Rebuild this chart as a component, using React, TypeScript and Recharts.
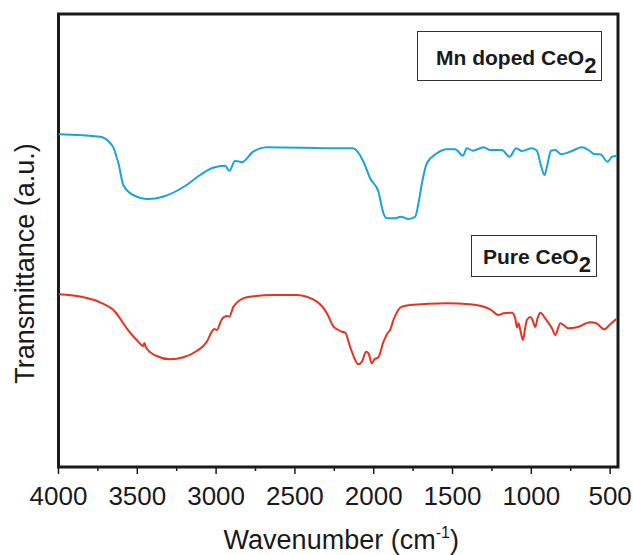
import { Line, LineChart, ReferenceArea, XAxis, YAxis } from "recharts";

// wavenumber (cm-1) and transmittance (a.u.)
const mnWave = [4000, 3737, 3662, 3645, 3630, 3620, 3589, 3527, 3432, 3337, 3197, 3102, 3019, 2943, 2916, 2880, 2848, 2837, 2765, 2678, 2213, 2132, 2065, 2023, 1970, 1938, 1917, 1864, 1828, 1779, 1737, 1716, 1694, 1663, 1599, 1536, 1483, 1434, 1409, 1371, 1303, 1261, 1187, 1138, 1096, 1060, 996, 965, 937, 916, 901, 875, 848, 812, 753, 679, 637, 601, 563, 516, 488, 456];
const mnTrans = [332.7, 330.3, 322, 317, 309, 304, 282, 272, 268, 270.3, 281, 292, 299.3, 301.3, 296.3, 306, 305.3, 304.7, 315.3, 319.7, 318.7, 318.7, 305.3, 288.7, 275.3, 253.7, 248.7, 248.7, 250.3, 248, 250.3, 263.7, 283.7, 303.7, 313.7, 317.7, 317.7, 311.3, 318.7, 316.3, 319.7, 317, 317, 310.3, 318.7, 316, 318.7, 316.3, 300.3, 292, 300.3, 316.3, 317, 312.7, 315.3, 319.7, 317, 313, 312.7, 305.3, 310.3, 311.3];

const pureWave = [4000, 3842, 3737, 3641, 3567, 3504, 3462, 3455, 3445, 3377, 3292, 3208, 3123, 3059, 3027, 3011, 2996, 2964, 2932, 2916, 2890, 2805, 2636, 2488, 2361, 2297, 2255, 2224, 2202, 2181, 2150, 2097, 2075, 2048, 2033, 2012, 1995, 1970, 1938, 1910, 1896, 1875, 1821, 1769, 1536, 1388, 1261, 1208, 1176, 1123, 1102, 1091, 1081, 1070, 1053, 1039, 1028, 1007, 990, 975, 960, 943, 912, 869, 848, 816, 764, 710, 626, 588, 537, 504, 461];
const pureTrans = [172.7, 169.7, 164.7, 155.3, 138.7, 127, 121, 124, 119.5, 111, 107.7, 109.7, 116, 125.3, 135.3, 138, 137, 147.7, 151, 150.3, 160.3, 169.7, 172, 172, 165.3, 153.7, 140.3, 137, 135.3, 134.3, 120.3, 102.7, 105.3, 115.3, 113.7, 103.7, 107.7, 109.7, 125.3, 134.3, 137, 147, 160.3, 162, 163.7, 162.7, 157.7, 152, 153.7, 154.3, 148.7, 139.5, 143.7, 137, 127, 139, 147, 150, 146, 140, 149, 154.3, 148.7, 138.7, 132, 143.7, 138.7, 139.7, 144.7, 143.7, 137.7, 142, 148];

const majorTicks = [4000, 3500, 3000, 2500, 2000, 1500, 1000, 500];
const minorTicks = [3750, 3250, 2750, 2250, 1750, 1250, 750];

const mnData = mnWave.map((w, i) => ({ w, t: mnTrans[i] }));
const pureData = pureWave.map((w, i) => ({ w, t: pureTrans[i] }));

const FONT = "'Liberation Sans', Arial, sans-serif";
const FRAME = "#1a1a1a";

function WaveTick({ x, y, payload }: any) {
  const major = majorTicks.includes(payload.value);
  return (
    <g>
      <line x1={x} x2={x} y1={y} y2={y + (major ? 7 : 4)} stroke={FRAME} strokeWidth={1.5} />
      {major && (
        <text x={x} y={y + 38} textAnchor="middle" fontSize={26} fontFamily={FONT} fill="#1a1a1a">
          {payload.value}
        </text>
      )}
    </g>
  );
}

function XTitle({ viewBox }: any) {
  const cx = viewBox.x + viewBox.width / 2 + 3;
  return (
    <text x={cx} y={viewBox.y + 82} textAnchor="middle" fontSize={27} fontFamily={FONT} fill="#1a1a1a">
      Wavenumber (cm
      <tspan fontSize={16} dy={-11}>-1</tspan>
      <tspan dy={11}>)</tspan>
    </text>
  );
}

function YTitle({ viewBox }: any) {
  const cx = 25;
  const cy = viewBox.y + viewBox.height / 2 + 23;
  return (
    <text
      x={cx}
      y={cy}
      transform={`rotate(-90 ${cx} ${cy})`}
      textAnchor="middle"
      dominantBaseline="central"
      fontSize={27}
      fontFamily={FONT}
      fill="#1a1a1a"
    >
      Transmittance (a.u.)
    </text>
  );
}

const boxStyle: React.CSSProperties = {
  position: "absolute",
  border: "1.5px solid #333",
  background: "#fff",
  fontFamily: FONT,
  fontWeight: "bold",
  fontSize: 21,
  color: "#1a1a1a",
  boxSizing: "border-box",
  whiteSpace: "nowrap",
};

export default function App() {
  return (
    <div style={{ position: "absolute", left: 0, top: 0, width: 633, height: 555, background: "#fff" }}>
      <LineChart width={633} height={555} margin={{ top: 14, right: 15, bottom: 0, left: 0 }}>
        <XAxis
          dataKey="w"
          type="number"
          domain={[450, 4000]}
          reversed
          ticks={[...majorTicks, ...minorTicks]}
          interval={0}
          height={88}
          tickSize={0}
          tickMargin={0}
          tickLine={false}
          axisLine={false}
          tick={<WaveTick />}
          label={<XTitle />}
          allowDataOverflow
        />
        <YAxis type="number" domain={[0, 453]} width={58.5} tick={false} axisLine={false} tickLine={false} label={<YTitle />} />
        <ReferenceArea x1={4000} x2={450} y1={0} y2={453} fill="none" stroke={FRAME} strokeWidth={3} />
        <Line data={mnData} dataKey="t" type="monotone" stroke="#1aa3d9" strokeWidth={2} dot={false} isAnimationActive={false} />
        <Line data={pureData} dataKey="t" type="monotone" stroke="#e63220" strokeWidth={2} dot={false} isAnimationActive={false} />
      </LineChart>
      <div style={{ ...boxStyle, left: 417, top: 31, width: 185, height: 50, paddingLeft: 18, paddingTop: 13 }}>
        Mn doped CeO<span style={{ position: "relative", top: 8, fontSize: 22 }}>2</span>
      </div>
      <div style={{ ...boxStyle, left: 471, top: 235, width: 126, height: 42, paddingLeft: 11, paddingTop: 8 }}>
        Pure CeO<span style={{ position: "relative", top: 8, fontSize: 22 }}>2</span>
      </div>
    </div>
  );
}
